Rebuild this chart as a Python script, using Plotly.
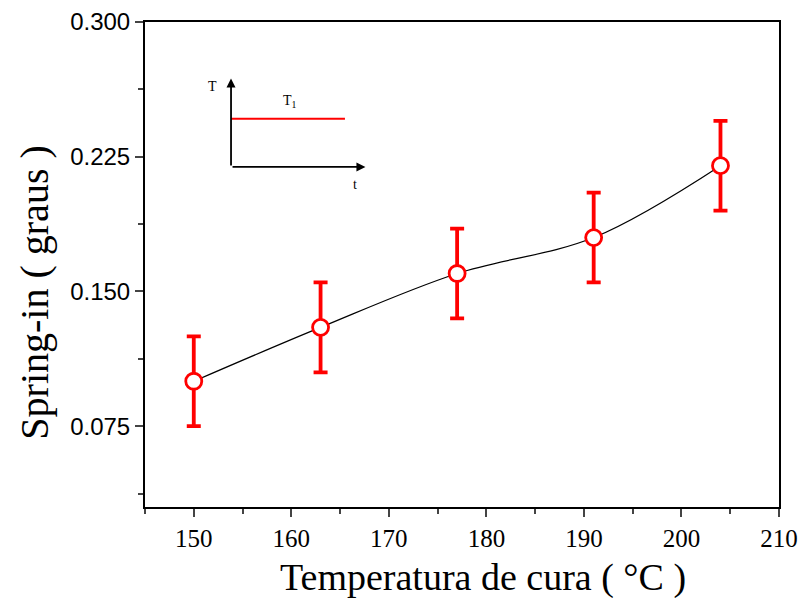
import plotly.graph_objects as go

temps = [150, 163, 177, 191, 204]
spring_in = [0.100, 0.130, 0.160, 0.180, 0.220]
err = [0.025, 0.025, 0.025, 0.025, 0.025]

x_ticks = [150, 160, 170, 180, 190, 200, 210]
y_ticks = [0.075, 0.150, 0.225, 0.300]

fig = go.Figure()
fig.add_trace(go.Scatter(
    x=temps, y=spring_in, mode="lines",
    line=dict(color="black", width=1.2, shape="spline", smoothing=1.0),
    showlegend=False, hoverinfo="skip"))
fig.add_trace(go.Scatter(
    x=temps, y=spring_in, mode="markers",
    marker=dict(symbol="circle", size=16, color="white",
                line=dict(color="red", width=2.8)),
    error_y=dict(type="data", array=err, visible=True, color="red",
                 thickness=3.8, width=7),
    showlegend=False))

serif = "Liberation Serif, Times New Roman, serif"
sans = "Liberation Sans, Arial, sans-serif"
fig.update_layout(
    width=801, height=598,
    margin=dict(l=145, r=22, t=22, b=91, autoexpand=False),
    plot_bgcolor="white", paper_bgcolor="white",
    xaxis=dict(range=[145, 210], tickvals=x_ticks, ticks="outside", ticklen=8,
               tickwidth=1.8, showline=True, linecolor="black", linewidth=2,
               mirror=True, showgrid=False, zeroline=False, automargin=False,
               minor=dict(dtick=5, ticks="outside", ticklen=5, tickwidth=1.8),
               tickfont=dict(family=serif, size=25, color="black")),
    yaxis=dict(range=[0.03, 0.30], tickvals=y_ticks, tickformat=".3f",
               ticks="outside", ticklen=8, tickwidth=1.8,
               showline=True, linecolor="black", linewidth=2, mirror=True,
               showgrid=False, zeroline=False, automargin=False,
               minor=dict(tickvals=[0.0375, 0.1125, 0.1875, 0.2625],
                          ticks="outside", ticklen=5, tickwidth=1.8),
               tickfont=dict(family=sans, size=24, color="black")),
)

# axis titles (placed as in the reference, slightly off-centre)
fig.add_annotation(x=0.533, y=-0.146, xref="paper", yref="paper",
                   text="Temperatura de cura ( °C )", showarrow=False,
                   xanchor="center", yanchor="middle",
                   font=dict(family=serif, size=38, color="black"))
fig.add_annotation(x=-0.1735, y=0.442, xref="paper", yref="paper",
                   text="Spring-in ( graus )", showarrow=False,
                   textangle=-90, xanchor="center", yanchor="middle",
                   font=dict(family=serif, size=40, color="black"))

# inset schematic T vs t
fig.add_annotation(x=153.82, y=0.2685, ax=153.82, ay=0.2193, xref="x", yref="y",
                   axref="x", ayref="y", text="", showarrow=True, arrowhead=2,
                   arrowsize=1, arrowwidth=1.8, arrowcolor="black")
fig.add_annotation(x=167.6, y=0.2193, ax=153.82, ay=0.2193, xref="x", yref="y",
                   axref="x", ayref="y", text="", showarrow=True, arrowhead=2,
                   arrowsize=1, arrowwidth=1.8, arrowcolor="black")
fig.add_shape(type="line", x0=153.82, x1=165.5, y0=0.2461, y1=0.2461,
              xref="x", yref="y", line=dict(color="red", width=2))
fig.add_annotation(x=151.9, y=0.2640, xref="x", yref="y", text="T",
                   showarrow=False, font=dict(family=serif, size=14, color="black"))
fig.add_annotation(x=159.9, y=0.2558, xref="x", yref="y", text="T<sub>1</sub>",
                   showarrow=False, font=dict(family=serif, size=14, color="black"))
fig.add_annotation(x=166.5, y=0.2095, xref="x", yref="y", text="t",
                   showarrow=False, font=dict(family=serif, size=14, color="black"))

fig.write_html("out.html", config={"displayModeBar": False}, post_script=(
    "document.documentElement.style.overflow='hidden';"
    "document.body.style.margin='0';document.body.style.overflow='hidden';"))
